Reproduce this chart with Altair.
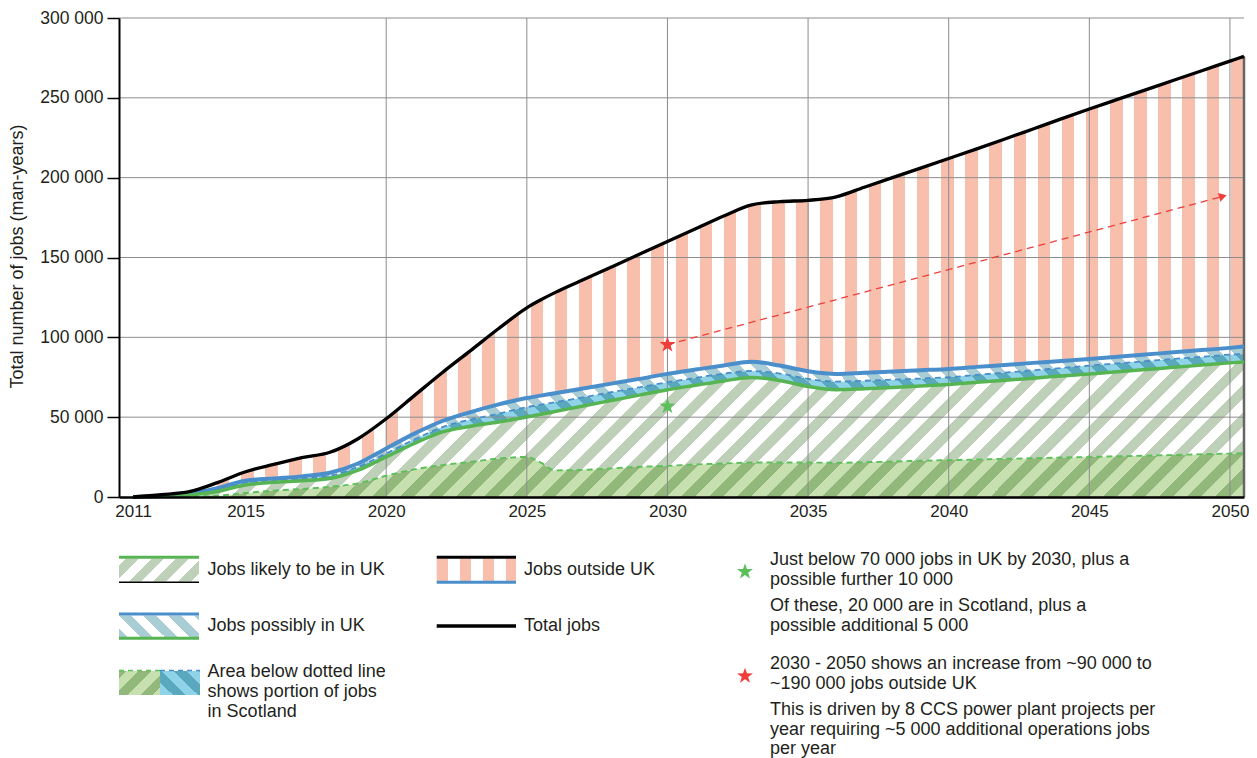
import math
import altair as alt
import pandas as pd

# ---------------- data ----------------
years = [2011, 2012, 2013, 2014, 2015, 2016, 2017, 2018, 2019, 2020, 2021, 2022, 2023, 2024,
         2025, 2025.5, 2026, 2027, 2028, 2029, 2030, 2031, 2032, 2033, 2034, 2035, 2036, 2037,
         2038, 2039, 2040, 2041, 2042, 2043, 2044, 2045, 2046, 2047, 2048, 2049, 2050, 2050.5]
total = [0, 1400, 3300, 9000, 15800, 20400, 24700, 28000, 36500, 49000, 63500, 78000, 91700, 105500,
         118500, 123500, 128000, 136000, 144000, 152000, 160000, 168000, 176000, 183000, 185000, 185800,
         188000, 194000, 200000, 206000, 212000, 218000, 224200, 230500, 236800, 243000, 249000, 255000,
         261000, 267000, 273000, 276000]
possible = [0, 600, 1800, 5500, 10200, 11600, 12900, 15200, 21000, 30400, 39700, 47600, 53200, 58000,
            62000, 63500, 65000, 68000, 71000, 74000, 77100, 79800, 82400, 84700, 82300, 78800, 77100,
            77800, 78600, 79400, 80200, 81500, 82700, 84000, 85200, 86500, 87900, 89300, 90600, 92000,
            93400, 94200]
possible_scot = [0, 500, 1500, 4500, 9000, 10400, 11500, 13300, 18900, 27300, 36000, 43800, 48500, 52200,
                 56300, 57800, 59300, 62400, 65600, 68700, 71900, 74600, 77300, 78900, 77300, 74000, 72300,
                 72800, 73500, 74200, 75000, 76500, 77900, 79400, 80800, 82300, 83700, 85100, 86500, 87800,
                 89200, 89600]
likely = [0, 400, 1300, 3500, 7500, 9200, 10200, 11600, 16800, 25100, 33500, 40800, 44300, 47000,
          50100, 51800, 53500, 57000, 60400, 63800, 67200, 70000, 72700, 74900, 73000, 69200, 67200,
          67800, 68600, 69500, 70500, 71800, 73100, 74400, 75800, 77100, 78500, 79900, 81200, 82600,
          84000, 84600]
likely_scot = [0, 100, 300, 800, 2500, 4000, 5000, 6400, 8500, 13300, 17300, 20000, 22000, 24100,
               25100, 21500, 16700, 17000, 17900, 18900, 19500, 20400, 21000, 21600, 21600, 21600, 21400,
               21800, 22200, 22700, 23100, 23500, 23900, 24300, 24700, 25100, 25500, 25900, 26300, 26800,
               27200, 27400]

x_ticks = [2011, 2015, 2020, 2025, 2030, 2035, 2040, 2045, 2050]
x_grid = [2020, 2025, 2030, 2035, 2040, 2045, 2050]
y_ticks = [0, 50000, 100000, 150000, 200000, 250000, 300000]

star_years = [2030, 2030]
star_values = [56800, 95400]
arrow_years = [2030, 2049.75]
arrow_values = [95400, 188300]

# ---------------- styling ----------------
FONT = "Liberation Sans"
TXT = "#231f20"
GRID = "#8c8c8c"
GREEN = "#56b552"
GREEN_D = "#5cbf5a"
BLUE = "#4a8fcb"
RED = "#ef3e3a"
TOP = 10
W_PLOT, H_PLOT = 1125, 479
DY = 16 - (8 + TOP)          # legend positions were measured against a plot top at page y=16
X_DOM = [2010.5, 2050.5]
Y_DOM = [0, 300000]

# five-pointed star as a custom symbol path
_pts = []
for k in range(10):
    r = 1.0 if k % 2 == 0 else 0.4
    a = math.radians(-90 + 36 * k)
    _pts.append(f"{r * math.cos(a):.4f},{r * math.sin(a):.4f}")
STAR = "M" + "L".join(_pts) + "Z"


def px_x(v):
    return (v - X_DOM[0]) / (X_DOM[1] - X_DOM[0]) * W_PLOT


def px_y(v):
    return H_PLOT - (v - Y_DOM[0]) / (Y_DOM[1] - Y_DOM[0]) * H_PLOT


def stripe_stops(cmin, L, period, duty, phase, bg, st):
    def color_at(c):
        r = ((c - phase) % period) / period
        return st if r < duty else bg
    stops = [(0.0, color_at(cmin + 1e-6))]
    k = math.floor((cmin - phase) / period) - 1
    while phase + k * period <= cmin + L + period:
        for edge, newc in ((phase + k * period, st), (phase + (k + duty) * period, bg)):
            t = (edge - cmin) / L
            if 0 < t < 1:
                stops.append((t, stops[-1][1]))
                stops.append((t, newc))
        k += 1
    stops.append((1.0, stops[-1][1]))
    return [alt.GradientStop(offset=round(t, 6), color=c) for t, c in stops]


def grad_vertical(X0, W, period, duty, phase, bg, st):
    return alt.LinearGradient(gradient="linear", x1=0, y1=0, x2=1, y2=0,
                              stops=stripe_stops(X0, W, period, duty, phase, bg, st))


def grad_slash(X0, Y0, W, H, period, duty, phase, bg, st):
    a = W * (W + H) / (W * W + H * H)
    return alt.LinearGradient(gradient="linear", x1=0, y1=0, x2=a, y2=a * H / W,
                              stops=stripe_stops(X0 + Y0, W + H, period, duty, phase, bg, st))


def grad_backslash(X0, Y0, W, H, period, duty, phase, bg, st):
    a = W * (W + H) / (W * W + H * H)
    return alt.LinearGradient(gradient="linear", x1=0, y1=1, x2=a, y2=1 - a * H / W,
                              stops=stripe_stops(X0 - Y0 - H, W + H, period, duty, phase, bg, st))


df = pd.DataFrame({"year": years, "total": total, "possible": possible,
                   "possible_scot": possible_scot, "likely": likely, "likely_scot": likely_scot})

X0 = px_x(years[0])
WA = px_x(years[-1]) - X0


def area_box(top_val):
    top = px_y(top_val)
    return X0, top, WA, H_PLOT - top


G_P = 28.125
B_P = 26.0
gA = grad_slash(*area_box(max(likely_scot)), G_P, 0.5, 0, "#c6e0af", "#93b87c")
gB = grad_slash(*area_box(max(likely)), G_P, 0.5, 0, "#ffffff", "#bed0b7")
gC = grad_backslash(*area_box(max(possible_scot)), B_P, 0.5, 0, "#8ed3e7", "#5aa8be")
gD = grad_backslash(*area_box(max(possible)), B_P, 0.5, 0, "#ffffff", "#a8cdd4")
gE = grad_vertical(X0, WA, 24.14, 0.52, 291.0, "#ffffff", "#f9bfad")

xs = alt.Scale(domain=X_DOM, nice=False, zero=False)
ys = alt.Scale(domain=Y_DOM, nice=False)
xaxis = alt.Axis(values=x_ticks, format="d", title=None, grid=False, ticks=False,
                 domainColor="black", domainWidth=2.5, labelFontSize=17, labelFont=FONT,
                 labelColor=TXT, labelPadding=6, labelFlush=False, labelOverlap=False, zindex=1)
yaxis = alt.Axis(values=y_ticks, labelExpr="replace(format(datum.value, ','), ',', ' ')",
                 title=None, grid=False, ticks=True, tickSize=12, tickColor="black", tickWidth=1.5,
                 domainColor="black", domainWidth=2, labelFontSize=17.5, labelFont=FONT,
                 labelColor=TXT, labelPadding=4, labelOverlap=False, zindex=1)


def X(f):
    return alt.X(f"{f}:Q", scale=xs, axis=xaxis)


def Y(f):
    return alt.Y(f"{f}:Q", scale=ys, axis=yaxis)


base = alt.Chart(df)
layers = [
    base.mark_area(interpolate="monotone", fill=gA).encode(x=X("year"), y=Y("likely_scot")),
    base.mark_area(interpolate="monotone", fill=gB).encode(x=X("year"), y=Y("likely"), y2="likely_scot"),
    base.mark_area(interpolate="monotone", fill=gC).encode(x=X("year"), y=Y("possible_scot"), y2="likely"),
    base.mark_area(interpolate="monotone", fill=gD).encode(x=X("year"), y=Y("possible"), y2="possible_scot"),
    base.mark_area(interpolate="monotone", fill=gE).encode(x=X("year"), y=Y("total"), y2="possible"),
]

# gridlines
hdf = pd.DataFrame({"v": y_ticks[1:]})
vdf = pd.DataFrame({"yr": x_grid})
layers.append(alt.Chart(hdf).mark_rule(color=GRID, strokeWidth=1).encode(y=Y("v")))
layers.append(alt.Chart(vdf).mark_rule(color=GRID, strokeWidth=1).encode(x=X("yr")))

# right edge
edf = pd.DataFrame({"yr": [years[-1]], "lo": [0], "hi": [total[-1]]})
layers.append(alt.Chart(edf).mark_rule(color="#666666", strokeWidth=2.5).encode(x=X("yr"), y=Y("lo"), y2="hi"))

# lines
layers += [
    base.mark_line(interpolate="monotone", color=GREEN_D, strokeWidth=1.9, strokeDash=[6, 4]).encode(x=X("year"), y=Y("likely_scot")),
    base.mark_line(interpolate="monotone", color=BLUE, strokeWidth=1.8, strokeDash=[6, 4]).encode(x=X("year"), y=Y("possible_scot")),
    base.mark_line(interpolate="monotone", color=BLUE, strokeWidth=4).encode(x=X("year"), y=Y("possible")),
    base.mark_line(interpolate="monotone", color=GREEN, strokeWidth=3.5).encode(x=X("year"), y=Y("likely")),
    base.mark_line(interpolate="monotone", color="black", strokeWidth=3.3).encode(x=X("year"), y=Y("total")),
]

# arrow + stars
adf = pd.DataFrame({"yr": arrow_years, "v": arrow_values})
layers.append(alt.Chart(adf).mark_line(color=RED, strokeWidth=1.3, strokeDash=[7, 5]).encode(x=X("yr"), y=Y("v")))
ang = math.degrees(math.atan2(px_y(arrow_values[0]) - px_y(arrow_values[1]),
                              px_x(arrow_years[1]) - px_x(arrow_years[0])))
hdf2 = pd.DataFrame({"yr": [arrow_years[1]], "v": [arrow_values[1]]})
layers.append(alt.Chart(hdf2).mark_point(shape="triangle-right", filled=True, color=RED, opacity=1,
                                         size=80, angle=360 - ang).encode(x=X("yr"), y=Y("v")))
sdf = pd.DataFrame({"yr": star_years, "v": star_values, "c": [GREEN_D, RED]})
layers.append(alt.Chart(sdf).mark_point(shape=STAR, filled=True, opacity=1, size=280).encode(
    x=X("yr"), y=Y("v"), color=alt.Color("c:N", scale=None)))

# ---------------- legend / annotations ----------------
one = pd.DataFrame({"k": [0]})


def rect(x1, x2, y1, y2, fill):
    return alt.Chart(one).mark_rect(fill=fill).encode(
        x=alt.value(x1), x2=alt.value(x2), y=alt.value(y1 + DY), y2=alt.value(y2 + DY))


def hline(x1, x2, y, color, w, dash=None):
    kw = {"strokeDash": dash} if dash else {}
    return alt.Chart(one).mark_rule(color=color, strokeWidth=w, **kw).encode(
        x=alt.value(x1), x2=alt.value(x2), y=alt.value(y + DY))


def text(s, x, y, size=18, **kw):
    return alt.Chart(one).mark_text(text=s, align=kw.pop("align", "left"), baseline="middle",
                                    font=FONT, fontSize=size, color=TXT, **kw).encode(
        x=alt.value(x), y=alt.value(y + DY))


# row 1 col 1
layers.append(rect(0, 80, 542.8, 565.5, grad_slash(0, 542.8, 80, 22.7, 25, 0.5, 0, "#ffffff", "#bed0b7")))
layers.append(hline(0, 80, 541.3, GREEN, 3))
layers.append(hline(0, 80, 566.3, "black", 1.5))
# row 2 col 1
layers.append(rect(0, 80, 599.5, 621, grad_backslash(0, 599.5, 80, 21.5, 25, 0.5, 0, "#ffffff", "#a8cdd4")))
layers.append(hline(0, 80, 598, BLUE, 3))
layers.append(hline(0, 80, 622.3, GREEN, 3))
# row 3 col 1
layers.append(rect(0, 41, 655, 679, grad_slash(0, 655, 41, 24, 25, 0.5, 0, "#c6e0af", "#93b87c")))
layers.append(rect(41, 81, 655, 679, grad_backslash(41, 655, 40, 24, 25, 0.5, 0, "#8ed3e7", "#5aa8be")))
layers.append(hline(0, 41, 654.5, GREEN_D, 1.6, [5, 4]))
layers.append(hline(41, 81, 654.5, BLUE, 1.6, [5, 4]))
# col 2
layers.append(rect(317.7, 397, 542.8, 565.5, grad_vertical(317.7, 79.3, 23, 0.47, 317.7, "#ffffff", "#f9bfad")))
layers.append(hline(317.7, 397, 541.3, "black", 3))
layers.append(hline(317.7, 397, 566.3, BLUE, 3))
layers.append(hline(317.7, 397, 610, "black", 3.5))

# legend stars
for sy, sc in ((555.7, GREEN_D), (660, RED)):
    layers.append(alt.Chart(one).mark_point(shape=STAR, filled=True, opacity=1, size=280, color=sc).encode(
        x=alt.value(626), y=alt.value(sy + DY)))

texts = [
    ("Jobs likely to be in UK", 88.6, 554),
    ("Jobs possibly in UK", 88.6, 610),
    ("Area below dotted line", 88.6, 656),
    ("shows portion of jobs", 88.6, 676),
    ("in Scotland", 88.6, 696),
    ("Jobs outside UK", 405, 554),
    ("Total jobs", 405, 610),
    ("Just below 70 000 jobs in UK by 2030, plus a", 651, 544),
    ("possible further 10 000", 651, 564),
    ("Of these, 20 000 are in Scotland, plus a", 651, 589.5),
    ("possible additional 5 000", 651, 610),
    ("2030 - 2050 shows an increase from ~90 000 to", 651, 648),
    ("~190 000 jobs outside UK", 651, 668),
    ("This is driven by 8 CCS power plant projects per", 651, 694),
    ("year requiring ~5 000 additional operations jobs", 651, 714),
    ("per year", 651, 733),
]
for s, tx, ty in texts:
    layers.append(text(s, tx, ty))

# y-axis title
layers.append(text("Total number of jobs (man-years)", -101, 240.5, align="center", angle=270))

chart = alt.layer(*layers).properties(
    width=W_PLOT, height=H_PLOT,
    autosize=alt.AutoSizeParams(type="none"),
    padding={"left": 111, "top": TOP, "right": 5, "bottom": 758 - 8 - TOP - H_PLOT},
    background="white",
).configure_view(stroke=None)

chart.save("out.html", embed_options={"renderer": "svg", "actions": False})
